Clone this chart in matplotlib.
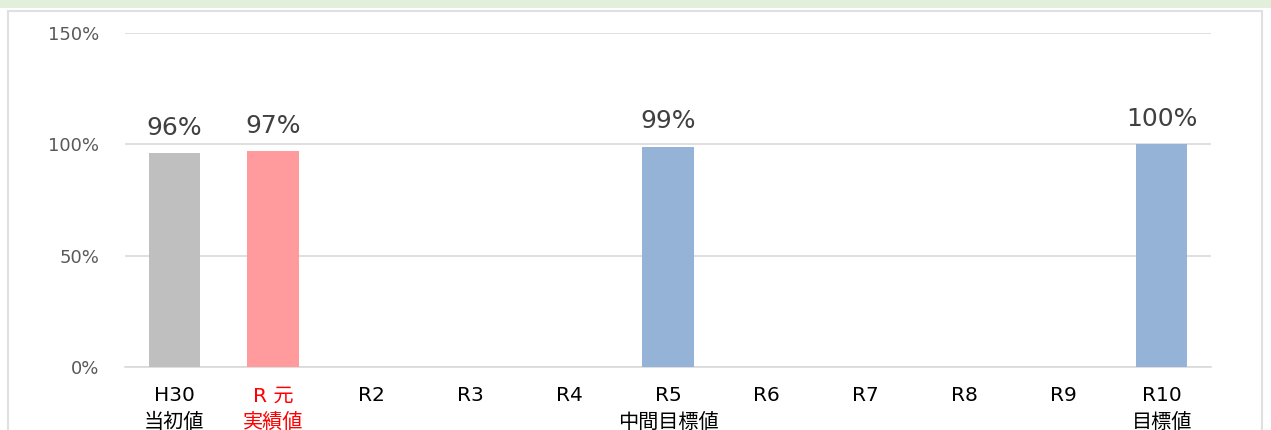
import matplotlib
matplotlib.use("Agg")
import matplotlib.pyplot as plt
from matplotlib.patches import Rectangle

categories = ["H30\n当初値", "R 元\n実績値", "R2", "R3", "R4", "R5\n中間目標値",
              "R6", "R7", "R8", "R9", "R10\n目標値"]
values = [96, 97, None, None, None, 99, None, None, None, None, 100]
value_labels = ["96%", "97%", "", "", "", "99%", "", "", "", "", "100%"]
bar_colors = ["#bfbfbf", "#ff9b9d", None, None, None, "#95b3d7",
              None, None, None, None, "#95b3d7"]
label_colors = ["black", "red", "black", "black", "black", "black",
                "black", "black", "black", "black", "black"]
yticks = [0, 50, 100, 150]
ytick_labels = ["0%", "50%", "100%", "150%"]

plt.rcParams['font.family'] = ['DejaVu Sans', 'Noto Sans CJK JP']

W, H = 1271, 430
fig = plt.figure(figsize=(W / 100, H / 100), dpi=100)
fig.patch.set_facecolor("white")

# top green strip and panel border
fig.add_artist(Rectangle((0, 1 - 8 / H), 1, 8 / H, transform=fig.transFigure,
                         facecolor="#e2efda", edgecolor="none", zorder=0))
fig.add_artist(Rectangle((8 / W, -0.05), (1262 - 8) / W, (H - 11) / H + 0.05,
                         transform=fig.transFigure, facecolor="none",
                         edgecolor="#e0e0e0", linewidth=1.5, zorder=0))

ax = fig.add_axes([125 / W, 1 - 367 / H, (1211 - 125) / W, (367 - 33) / H])
ax.set_facecolor("none")

x = list(range(len(categories)))
for i, (v, c) in enumerate(zip(values, bar_colors)):
    if v is None:
        continue
    ax.bar(i, v, width=0.52, color=c, edgecolor="none", zorder=3)
    ax.text(i, v + 6, value_labels[i], ha="center", va="bottom",
            fontsize=18, color="#404040", zorder=4)

ax.set_xlim(-0.5, len(categories) - 0.5)
ax.set_ylim(0, 150)
ax.set_yticks(yticks)
ax.set_yticklabels(ytick_labels, fontsize=13, color="#595959")
ax.tick_params(axis="y", length=0, pad=18.5)
ax.set_xticks(x)
ax.set_xticklabels(categories, fontsize=14.5, linespacing=1.5)
for lab, col in zip(ax.get_xticklabels(), label_colors):
    lab.set_color(col)
    lab.set_verticalalignment("top")
ax.tick_params(axis="x", length=0, pad=14)

ax.grid(axis="y", color="#d9d9d9", linewidth=1.2, zorder=0)
for s in ["top", "right", "left"]:
    ax.spines[s].set_visible(False)
ax.spines["bottom"].set_color("#d9d9d9")
ax.spines["bottom"].set_linewidth(1.2)

fig.savefig("out.png", dpi=100)
